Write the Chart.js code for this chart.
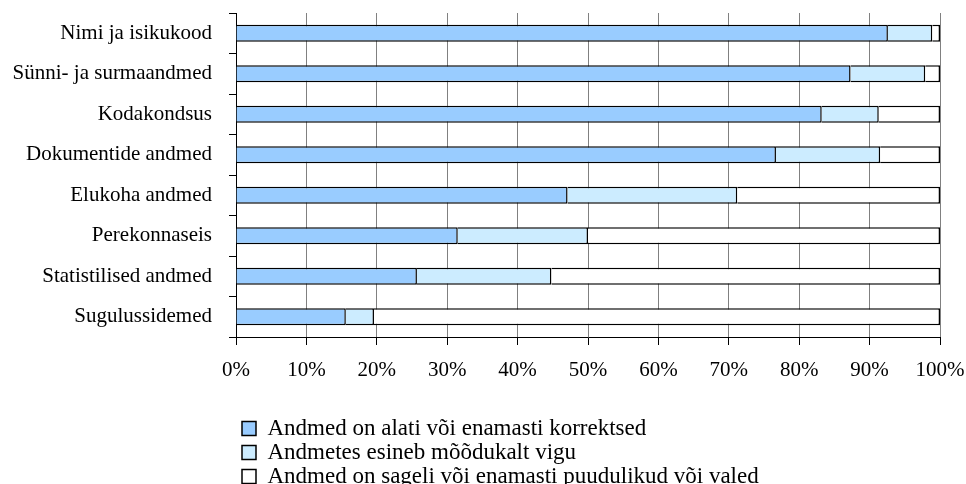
<!DOCTYPE html>
<html lang="et">
<head>
    <meta charset="UTF-8">
    <meta name="viewport" content="width=device-width, initial-scale=1.0">
    <title>Andmete kvaliteet</title>
    <style>
        html, body { margin: 0; padding: 0; background: #fff; overflow: hidden; }
        #wrap { position: relative; width: 966px; height: 498px; }
    </style>
</head>
<body>
    <div id="wrap">
        <canvas id="myChart"></canvas>
    </div>

    <script src="https://cdn.jsdelivr.net/npm/chart.js"></script>

    <script>
        const ctx = document.getElementById('myChart');

        // kategooriad (ülevalt alla)
        const categories = [
            'Nimi ja isikukood',
            'Sünni- ja surmaandmed',
            'Kodakondsus',
            'Dokumentide andmed',
            'Elukoha andmed',
            'Perekonnaseis',
            'Statistilised andmed',
            'Sugulussidemed'
        ];

        // osakaalud protsentides, loetud jooniselt
        const correct    = [92.6, 87.3, 83.2, 76.7, 47.1, 31.5, 25.7, 15.6];
        const someErrors = [6.3, 10.6, 8.1, 14.8, 24.1, 18.5, 19.1, 4.0];
        const poor       = [1.1, 2.1, 8.7, 8.5, 28.8, 50.0, 55.2, 80.4];

        const seriesNames = [
            'Andmed on alati või enamasti korrektsed',
            'Andmetes esineb mõõdukalt vigu',
            'Andmed on sageli või enamasti puudulikud või valed'
        ];

        const xTickLabels = ['0%', '10%', '20%', '30%', '40%', '50%', '60%', '70%', '80%', '90%', '100%'];

        Chart.defaults.font.family = '"Liberation Serif", "Times New Roman", serif';
        Chart.defaults.font.size = 21;
        Chart.defaults.color = '#000';

        const barStyle = {
            borderColor: '#000',
            borderWidth: 1.5,
            barPercentage: 0.42,
            categoryPercentage: 1
        };

        // legend veidi paremale, nagu originaalis
        const legendNudge = {
            id: 'legendNudge',
            afterLayout(chart) {
                chart.legend.left += 5;
                chart.legend.right += 5;
            }
        };

        new Chart(ctx, {
            type: 'bar',
            data: {
                labels: categories,
                datasets: [
                    { label: seriesNames[0], data: correct, backgroundColor: '#99CCFF', ...barStyle },
                    { label: seriesNames[1], data: someErrors, backgroundColor: '#CCECFF', ...barStyle },
                    { label: seriesNames[2], data: poor, backgroundColor: '#FFFFFF', ...barStyle }
                ]
            },
            options: {
                indexAxis: 'y',
                animation: false,
                responsive: true,
                maintainAspectRatio: false,
                layout: { padding: { top: 13, right: 26, bottom: 0, left: 0 } },
                scales: {
                    x: {
                        stacked: true,
                        min: 0,
                        max: 100,
                        ticks: {
                            stepSize: 10,
                            padding: 13,
                            maxRotation: 0,
                            callback: (value, index) => xTickLabels[index]
                        },
                        grid: { color: '#808080', tickColor: '#000', tickLength: 8 },
                        border: { color: '#000', width: 1 },
                        afterFit: (scale) => {
                            scale.height = 79;
                            scale.paddingLeft = 0;
                            scale.paddingRight = 0;
                        }
                    },
                    y: {
                        stacked: true,
                        ticks: { padding: 17 },
                        grid: { drawOnChartArea: false, color: '#000', tickLength: 7 },
                        border: { color: '#000', width: 1 },
                        afterFit: (scale) => {
                            scale.width = 236;
                            scale.paddingTop = 0;
                            scale.paddingBottom = 0;
                        }
                    }
                },
                plugins: {
                    legend: {
                        position: 'bottom',
                        align: 'start',
                        fullSize: false,
                        labels: {
                            boxWidth: 14,
                            boxHeight: 14,
                            padding: 1,
                            color: '#000',
                            font: { size: 23 }
                        }
                    },
                    tooltip: { enabled: false }
                }
            },
            plugins: [legendNudge]
        });
    </script>
</body>
</html>
